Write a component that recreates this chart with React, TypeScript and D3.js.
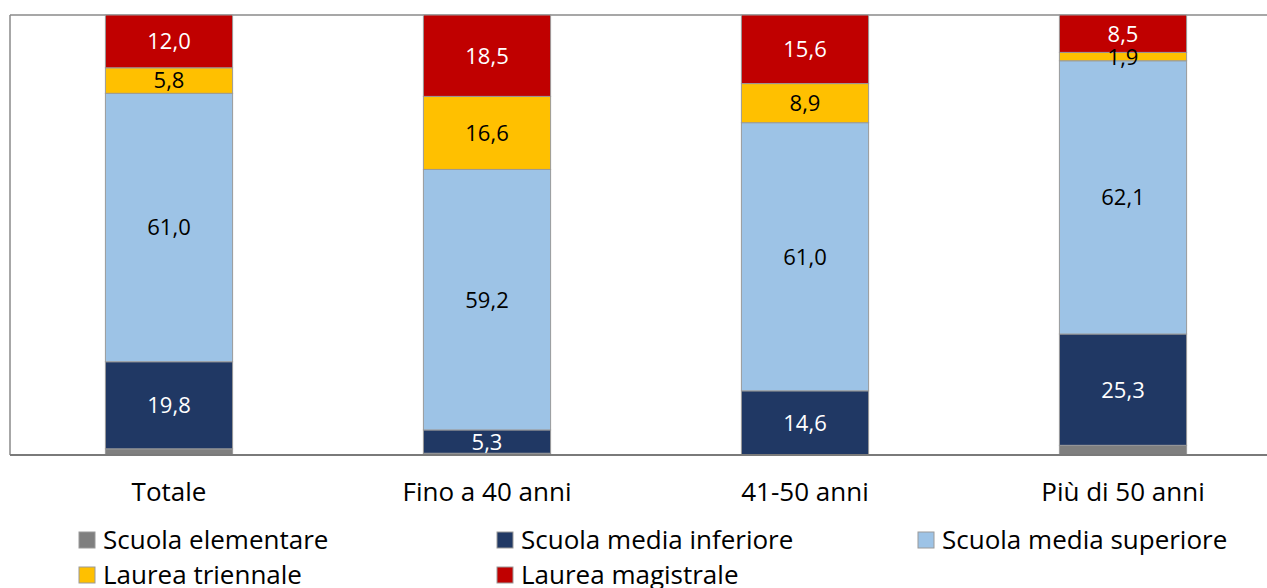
import React from "react";
import * as d3 from "d3";

const categories = ["Totale", "Fino a 40 anni", "41-50 anni", "Più di 50 anni"];
const seriesNames = [
  "Scuola elementare",
  "Scuola media inferiore",
  "Scuola media superiore",
  "Laurea triennale",
  "Laurea magistrale",
];
const elementare = [1.4, 0.4, 0.0, 2.2];
const mediaInferiore = [19.8, 5.3, 14.6, 25.3];
const mediaSuperiore = [61.0, 59.2, 61.0, 62.1];
const laureaTriennale = [5.8, 16.6, 8.9, 1.9];
const laureaMagistrale = [12.0, 18.5, 15.6, 8.5];
const showLabel = [false, true, true, true, true];

const colors = ["#7F7F7F", "#203864", "#9DC3E6", "#FFC000", "#C00000"];
const labelColors = ["#fff", "#fff", "#000", "#000", "#fff"];

const W = 1267;
const H = 588;
const plot = { left: 10, top: 15, right: 1282, bottom: 455 };
const FONT = "'Open Sans', sans-serif";

export default function App() {
  const values = [elementare, mediaInferiore, mediaSuperiore, laureaTriennale, laureaMagistrale];
  const rows = categories.map((c, i) => {
    const r: Record<string, any> = { cat: c };
    seriesNames.forEach((s, k) => (r[s] = values[k][i]));
    return r;
  });
  const stacked = d3
    .stack<any>()
    .keys(seriesNames)
    .offset(d3.stackOffsetExpand)(rows);

  const x = d3
    .scaleBand<string>()
    .domain(categories)
    .range([plot.left, plot.right])
    .paddingInner(0.6)
    .paddingOuter(0.3);
  const y = d3.scaleLinear().domain([0, 1]).range([plot.bottom, plot.top]);

  const legendPos = [
    { x: 79, y: 540 },
    { x: 497, y: 540 },
    { x: 918, y: 540 },
    { x: 79, y: 575 },
    { x: 497, y: 575 },
  ];

  return (
    <svg
      width={W}
      height={H}
      style={{ position: "absolute", left: 0, top: 0, background: "#fff" }}
      fontFamily={FONT}
    >
      {/* plot frame */}
      <line x1={plot.left} x2={W} y1={plot.top} y2={plot.top} stroke="#8a8a8a" strokeWidth={1.5} />
      <line x1={plot.left} x2={plot.left} y1={plot.top} y2={plot.bottom} stroke="#8a8a8a" strokeWidth={1.5} />

      {stacked.map((layer, k) => (
        <g key={layer.key}>
          {layer.map((d, i) => {
            const x0 = x(categories[i])!;
            const y0 = y(d[1]);
            const h = y(d[0]) - y(d[1]);
            if (h <= 0) return null;
            return (
              <rect
                key={i}
                x={x0}
                y={y0}
                width={x.bandwidth()}
                height={h}
                fill={colors[k]}
                stroke="#9a9a9a"
                strokeWidth={1}
              />
            );
          })}
        </g>
      ))}

      {stacked.map((layer, k) =>
        showLabel[k]
          ? layer.map((d, i) => (
              <text
                key={`${layer.key}-${i}`}
                x={x(categories[i])! + x.bandwidth() / 2}
                y={(y(d[0]) + y(d[1])) / 2}
                dy="0.36em"
                textAnchor="middle"
                fontSize={22}
                fill={labelColors[k]}
              >
                {values[k][i].toFixed(1).replace(".", ",")}
              </text>
            ))
          : null
      )}

      {/* category axis */}
      <line x1={plot.left} x2={W} y1={plot.bottom} y2={plot.bottom} stroke="#7a7a7a" strokeWidth={2} />
      {categories.map((c) => (
        <text
          key={c}
          x={x(c)! + x.bandwidth() / 2}
          y={492}
          dy="0.36em"
          textAnchor="middle"
          fontSize={26}
          fill="#000"
        >
          {c}
        </text>
      ))}

      {/* legend */}
      {seriesNames.map((s, k) => (
        <g key={s} transform={`translate(${legendPos[k].x},${legendPos[k].y})`}>
          <rect x={0} y={-8} width={16} height={16} fill={colors[k]} stroke="#9a9a9a" strokeWidth={1} />
          <text x={24} y={0} dy="0.36em" fontSize={26} fill="#000">
            {s}
          </text>
        </g>
      ))}
    </svg>
  );
}
